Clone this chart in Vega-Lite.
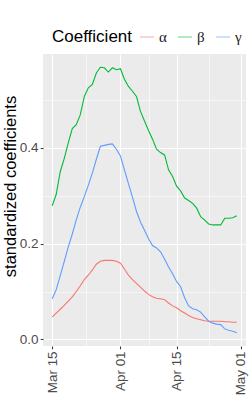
{
"$schema": "https://vega.github.io/schema/vega-lite/v6.json",
"width": 203, "height": 292,
"autosize": {"type": "none"},
"padding": {"left": 43, "top": 54, "right": 3, "bottom": 69},
"background": "white",
"config": {"view": {"fill": "#EBEBEB", "stroke": null}, "font": "Liberation Sans"},
"data": {"values": [
{"date":"2020-03-15","coef":"α","value":0.047},{"date":"2020-03-16","coef":"α","value":0.055},{"date":"2020-03-17","coef":"α","value":0.063},{"date":"2020-03-18","coef":"α","value":0.071},{"date":"2020-03-19","coef":"α","value":0.080},{"date":"2020-03-20","coef":"α","value":0.089},{"date":"2020-03-21","coef":"α","value":0.100},{"date":"2020-03-22","coef":"α","value":0.112},{"date":"2020-03-23","coef":"α","value":0.125},{"date":"2020-03-24","coef":"α","value":0.134},{"date":"2020-03-25","coef":"α","value":0.145},{"date":"2020-03-26","coef":"α","value":0.157},{"date":"2020-03-27","coef":"α","value":0.163},{"date":"2020-03-28","coef":"α","value":0.165},{"date":"2020-03-29","coef":"α","value":0.165},{"date":"2020-03-30","coef":"α","value":0.165},{"date":"2020-03-31","coef":"α","value":0.163},{"date":"2020-04-01","coef":"α","value":0.159},{"date":"2020-04-02","coef":"α","value":0.147},{"date":"2020-04-03","coef":"α","value":0.134},{"date":"2020-04-04","coef":"α","value":0.125},{"date":"2020-04-05","coef":"α","value":0.117},{"date":"2020-04-06","coef":"α","value":0.109},{"date":"2020-04-07","coef":"α","value":0.101},{"date":"2020-04-08","coef":"α","value":0.094},{"date":"2020-04-09","coef":"α","value":0.089},{"date":"2020-04-10","coef":"α","value":0.086},{"date":"2020-04-11","coef":"α","value":0.085},{"date":"2020-04-12","coef":"α","value":0.083},{"date":"2020-04-13","coef":"α","value":0.076},{"date":"2020-04-14","coef":"α","value":0.070},{"date":"2020-04-15","coef":"α","value":0.066},{"date":"2020-04-16","coef":"α","value":0.060},{"date":"2020-04-17","coef":"α","value":0.055},{"date":"2020-04-18","coef":"α","value":0.050},{"date":"2020-04-19","coef":"α","value":0.046},{"date":"2020-04-20","coef":"α","value":0.043},{"date":"2020-04-21","coef":"α","value":0.041},{"date":"2020-04-22","coef":"α","value":0.039},{"date":"2020-04-23","coef":"α","value":0.038},{"date":"2020-04-24","coef":"α","value":0.038},{"date":"2020-04-25","coef":"α","value":0.038},{"date":"2020-04-26","coef":"α","value":0.038},{"date":"2020-04-27","coef":"α","value":0.037},{"date":"2020-04-28","coef":"α","value":0.037},{"date":"2020-04-29","coef":"α","value":0.036},{"date":"2020-04-30","coef":"α","value":0.036},
{"date":"2020-03-15","coef":"β","value":0.279},{"date":"2020-03-16","coef":"β","value":0.303},{"date":"2020-03-17","coef":"β","value":0.350},{"date":"2020-03-18","coef":"β","value":0.378},{"date":"2020-03-19","coef":"β","value":0.410},{"date":"2020-03-20","coef":"β","value":0.440},{"date":"2020-03-21","coef":"β","value":0.448},{"date":"2020-03-22","coef":"β","value":0.469},{"date":"2020-03-23","coef":"β","value":0.507},{"date":"2020-03-24","coef":"β","value":0.525},{"date":"2020-03-25","coef":"β","value":0.532},{"date":"2020-03-26","coef":"β","value":0.556},{"date":"2020-03-27","coef":"β","value":0.568},{"date":"2020-03-28","coef":"β","value":0.567},{"date":"2020-03-29","coef":"β","value":0.558},{"date":"2020-03-30","coef":"β","value":0.567},{"date":"2020-03-31","coef":"β","value":0.563},{"date":"2020-04-01","coef":"β","value":0.565},{"date":"2020-04-02","coef":"β","value":0.543},{"date":"2020-04-03","coef":"β","value":0.528},{"date":"2020-04-04","coef":"β","value":0.518},{"date":"2020-04-05","coef":"β","value":0.507},{"date":"2020-04-06","coef":"β","value":0.476},{"date":"2020-04-07","coef":"β","value":0.456},{"date":"2020-04-08","coef":"β","value":0.436},{"date":"2020-04-09","coef":"β","value":0.418},{"date":"2020-04-10","coef":"β","value":0.397},{"date":"2020-04-11","coef":"β","value":0.390},{"date":"2020-04-12","coef":"β","value":0.385},{"date":"2020-04-13","coef":"β","value":0.354},{"date":"2020-04-14","coef":"β","value":0.340},{"date":"2020-04-15","coef":"β","value":0.320},{"date":"2020-04-16","coef":"β","value":0.310},{"date":"2020-04-17","coef":"β","value":0.295},{"date":"2020-04-18","coef":"β","value":0.290},{"date":"2020-04-19","coef":"β","value":0.284},{"date":"2020-04-20","coef":"β","value":0.274},{"date":"2020-04-21","coef":"β","value":0.256},{"date":"2020-04-22","coef":"β","value":0.249},{"date":"2020-04-23","coef":"β","value":0.241},{"date":"2020-04-24","coef":"β","value":0.239},{"date":"2020-04-25","coef":"β","value":0.239},{"date":"2020-04-26","coef":"β","value":0.239},{"date":"2020-04-27","coef":"β","value":0.253},{"date":"2020-04-28","coef":"β","value":0.253},{"date":"2020-04-29","coef":"β","value":0.254},{"date":"2020-04-30","coef":"β","value":0.258},
{"date":"2020-03-15","coef":"γ","value":0.085},{"date":"2020-03-16","coef":"γ","value":0.104},{"date":"2020-03-17","coef":"γ","value":0.133},{"date":"2020-03-18","coef":"γ","value":0.163},{"date":"2020-03-19","coef":"γ","value":0.193},{"date":"2020-03-20","coef":"γ","value":0.220},{"date":"2020-03-21","coef":"γ","value":0.250},{"date":"2020-03-22","coef":"γ","value":0.276},{"date":"2020-03-23","coef":"γ","value":0.298},{"date":"2020-03-24","coef":"γ","value":0.322},{"date":"2020-03-25","coef":"γ","value":0.347},{"date":"2020-03-26","coef":"γ","value":0.376},{"date":"2020-03-27","coef":"γ","value":0.403},{"date":"2020-03-28","coef":"γ","value":0.405},{"date":"2020-03-29","coef":"γ","value":0.407},{"date":"2020-03-30","coef":"γ","value":0.408},{"date":"2020-03-31","coef":"γ","value":0.397},{"date":"2020-04-01","coef":"γ","value":0.383},{"date":"2020-04-02","coef":"γ","value":0.354},{"date":"2020-04-03","coef":"γ","value":0.325},{"date":"2020-04-04","coef":"γ","value":0.297},{"date":"2020-04-05","coef":"γ","value":0.267},{"date":"2020-04-06","coef":"γ","value":0.245},{"date":"2020-04-07","coef":"γ","value":0.228},{"date":"2020-04-08","coef":"γ","value":0.210},{"date":"2020-04-09","coef":"γ","value":0.196},{"date":"2020-04-10","coef":"γ","value":0.191},{"date":"2020-04-11","coef":"γ","value":0.183},{"date":"2020-04-12","coef":"γ","value":0.168},{"date":"2020-04-13","coef":"γ","value":0.151},{"date":"2020-04-14","coef":"γ","value":0.137},{"date":"2020-04-15","coef":"γ","value":0.121},{"date":"2020-04-16","coef":"γ","value":0.110},{"date":"2020-04-17","coef":"γ","value":0.087},{"date":"2020-04-18","coef":"γ","value":0.070},{"date":"2020-04-19","coef":"γ","value":0.064},{"date":"2020-04-20","coef":"γ","value":0.062},{"date":"2020-04-21","coef":"γ","value":0.057},{"date":"2020-04-22","coef":"γ","value":0.047},{"date":"2020-04-23","coef":"γ","value":0.038},{"date":"2020-04-24","coef":"γ","value":0.034},{"date":"2020-04-25","coef":"γ","value":0.032},{"date":"2020-04-26","coef":"γ","value":0.031},{"date":"2020-04-27","coef":"γ","value":0.022},{"date":"2020-04-28","coef":"γ","value":0.019},{"date":"2020-04-29","coef":"γ","value":0.017},{"date":"2020-04-30","coef":"γ","value":0.014}
]},
"mark": {"type": "line", "strokeWidth": 1.1, "clip": true},
"encoding": {
"x": {"field": "date", "type": "temporal",
 "scale": {"type": "utc", "domain": [{"year": 2020, "month": "mar", "date": 12, "hours": 16, "minutes": 48, "utc": true}, {"year": 2020, "month": "may", "date": 2, "hours": 7, "minutes": 12, "utc": true}]},
 "axis": {"title": null, "domain": false, "grid": true, "gridColor": "white",
  "values": [{"year": 2020, "month": "mar", "date": 15, "utc": true}, {"year": 2020, "month": "mar", "date": 23, "hours": 12, "utc": true}, {"year": 2020, "month": "apr", "date": 1, "utc": true}, {"year": 2020, "month": "apr", "date": 8, "utc": true}, {"year": 2020, "month": "apr", "date": 15, "utc": true}, {"year": 2020, "month": "apr", "date": 23, "utc": true}, {"year": 2020, "month": "may", "date": 1, "utc": true}],
  "gridWidth": {"condition": {"test": "utcdate(datum.value) == 15 || utcdate(datum.value) == 1", "value": 1.1}, "value": 0.55},
  "tickOpacity": {"condition": {"test": "utcdate(datum.value) == 15 || utcdate(datum.value) == 1", "value": 1}, "value": 0},
  "labelExpr": "(utcdate(datum.value) == 15 || utcdate(datum.value) == 1) ? utcFormat(datum.value, '%b %d') : ''",
  "labelAngle": 270, "labelAlign": "right", "labelBaseline": "middle",
  "labelFontSize": 13.4, "labelColor": "#4D4D4D", "labelPadding": 2.2,
  "tickColor": "#333333", "tickSize": 2.75, "tickWidth": 1.07, "labelOverlap": false}},
"y": {"field": "value", "type": "quantitative",
 "scale": {"domain": [-0.0137, 0.5957], "nice": false, "zero": false},
 "axis": {"title": "standardized coefficients", "domain": false, "grid": true, "gridColor": "white",
  "values": [0, 0.1, 0.2, 0.3, 0.4, 0.5],
  "gridWidth": {"condition": {"test": "round(datum.value * 10) % 2 == 0", "value": 1.1}, "value": 0.55},
  "tickOpacity": {"condition": {"test": "round(datum.value * 10) % 2 == 0", "value": 1}, "value": 0},
  "labelExpr": "round(datum.value * 10) % 2 == 0 ? format(datum.value, '.1f') : ''",
  "labelFontSize": 13.5, "labelColor": "#4D4D4D", "labelPadding": 2.2,
  "tickColor": "#333333", "tickSize": 2.75, "tickWidth": 1.07,
  "titleFontSize": 16.5, "titleFontWeight": "normal", "titleColor": "black",
  "titleX": -28, "titleY": 132, "titleAngle": 270, "titleAlign": "center", "titleBaseline": "alphabetic"}},
"color": {"field": "coef", "type": "nominal",
 "scale": {"domain": ["α", "β", "γ"], "range": ["#F8766D", "#00BA38", "#619CFF"]},
 "legend": {"title": "Coefficient", "orient": "none", "legendX": 9, "legendY": -25, "direction": "horizontal",
  "titleOrient": "left", "titleFontSize": 17, "titleFontWeight": "normal", "titleColor": "black", "titlePadding": 6,
  "labelFont": "Liberation Serif", "labelFontSize": 15, "labelColor": "#1A1A1A", "labelOffset": 4,
  "symbolType": "stroke", "symbolSize": 196, "symbolStrokeWidth": 1.2, "symbolOpacity": 0.5, "columnPadding": 8}}
}
}
